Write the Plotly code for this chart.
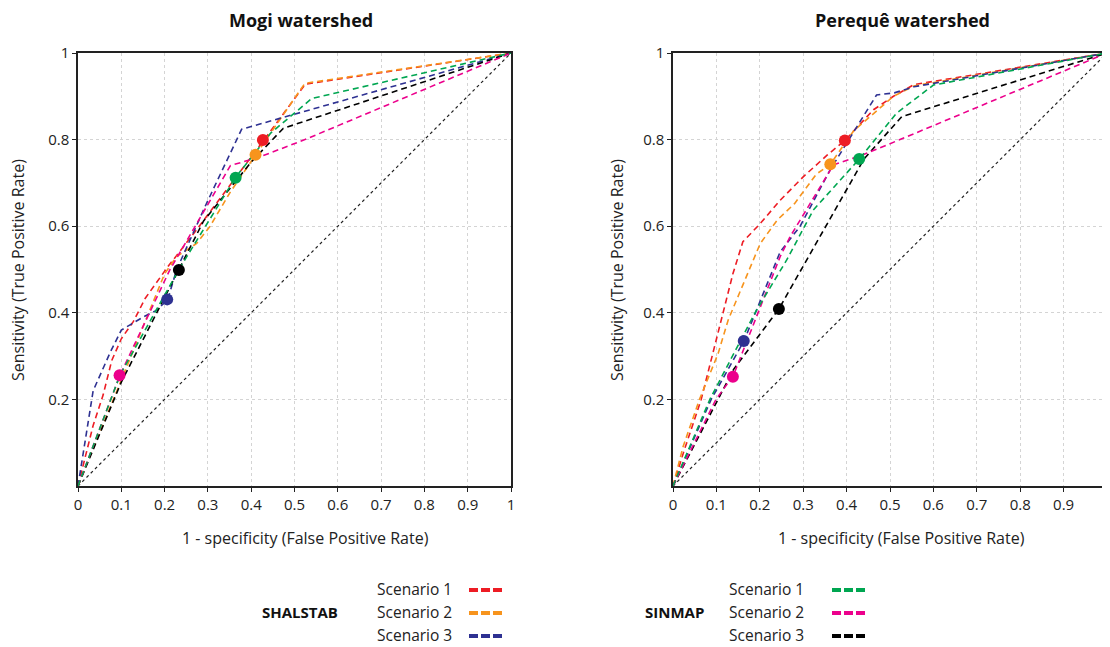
import plotly.graph_objects as go

W, H = 1110, 647
OFF = 8  # page body margin offset compensation

# ---------------- data ----------------
# Mogi watershed
mogi_shal1_x = [0, 0.035, 0.058, 0.078, 0.1, 0.128, 0.155, 0.182, 0.21, 0.23, 0.28, 0.43, 0.525, 1]
mogi_shal1_y = [0, 0.14, 0.21, 0.29, 0.34, 0.38, 0.433, 0.472, 0.51, 0.535, 0.60, 0.80, 0.928, 1]
mogi_shal2_x = [0, 0.02, 0.09, 0.2, 0.228, 0.274, 0.305, 0.35, 0.411, 0.524, 1]
mogi_shal2_y = [0, 0.05, 0.22, 0.49, 0.53, 0.56, 0.60, 0.676, 0.766, 0.93, 1]
mogi_shal3_x = [0, 0.035, 0.075, 0.1, 0.15, 0.18, 0.207, 0.228, 0.297, 0.37, 0.378, 0.466, 1]
mogi_shal3_y = [0, 0.22, 0.31, 0.36, 0.39, 0.405, 0.43, 0.50, 0.653, 0.807, 0.824, 0.849, 1]
mogi_sin1_x = [0, 0.097, 0.233, 0.364, 0.445, 0.54, 1]
mogi_sin1_y = [0, 0.256, 0.50, 0.713, 0.815, 0.895, 1]
mogi_sin2_x = [0, 0.097, 0.212, 0.30, 0.352, 0.42, 0.524, 1]
mogi_sin2_y = [0, 0.256, 0.499, 0.65, 0.74, 0.76, 0.80, 1]
mogi_sin3_x = [0, 0.1, 0.233, 0.29, 0.40, 0.474, 1]
mogi_sin3_y = [0, 0.24, 0.50, 0.612, 0.748, 0.826, 1]
# selected points (shal1, shal2, shal3, sin1, sin2, sin3)
mogi_pt_x = [0.427, 0.41, 0.206, 0.364, 0.096, 0.233]
mogi_pt_y = [0.799, 0.765, 0.431, 0.712, 0.256, 0.499]

# Perequê watershed
pereque_shal1_x = [0, 0.025, 0.065, 0.11, 0.138, 0.161, 0.2, 0.247, 0.30, 0.355, 0.396, 0.462, 0.508, 0.555, 1]
pereque_shal1_y = [0, 0.08, 0.20, 0.38, 0.49, 0.564, 0.605, 0.66, 0.714, 0.764, 0.798, 0.869, 0.90, 0.927, 1]
pereque_shal2_x = [0, 0.023, 0.061, 0.104, 0.127, 0.165, 0.201, 0.24, 0.28, 0.33, 0.3625, 0.416, 0.508, 0.555, 1]
pereque_shal2_y = [0, 0.09, 0.20, 0.306, 0.383, 0.476, 0.56, 0.614, 0.652, 0.72, 0.743, 0.82, 0.90, 0.924, 1]
pereque_shal3_x = [0, 0.088, 0.164, 0.247, 0.293, 0.362, 0.469, 0.51, 0.555, 1]
pereque_shal3_y = [0, 0.20, 0.336, 0.541, 0.60, 0.73, 0.903, 0.908, 0.922, 1]
pereque_sin1_x = [0, 0.085, 0.189, 0.262, 0.323, 0.429, 0.515, 0.60, 1]
pereque_sin1_y = [0, 0.20, 0.40, 0.522, 0.637, 0.755, 0.861, 0.926, 1]
pereque_sin2_x = [0, 0.099, 0.139, 0.196, 0.247, 0.27, 0.37, 0.43, 0.523, 1]
pereque_sin2_y = [0, 0.20, 0.255, 0.40, 0.53, 0.576, 0.742, 0.762, 0.80, 1]
pereque_sin3_x = [0, 0.14, 0.244, 0.339, 0.44, 0.527, 1]
pereque_sin3_y = [0, 0.27, 0.409, 0.576, 0.755, 0.853, 1]
pereque_pt_x = [0.396, 0.3625, 0.163, 0.429, 0.138, 0.244]
pereque_pt_y = [0.798, 0.743, 0.335, 0.755, 0.2525, 0.409]

diag_x = [0, 1]
diag_y = [0, 1]

x_ticks = [0, 0.1, 0.2, 0.3, 0.4, 0.5, 0.6, 0.7, 0.8, 0.9, 1]
x_ticktext = ["0", "0.1", "0.2", "0.3", "0.4", "0.5", "0.6", "0.7", "0.8", "0.9", "1"]
y_ticks = [0.2, 0.4, 0.6, 0.8, 1]
y_ticktext = ["0.2", "0.4", "0.6", "0.8", "1"]

series_names = ["SHALSTAB Scenario 1", "SHALSTAB Scenario 2", "SHALSTAB Scenario 3",
                "SINMAP Scenario 1", "SINMAP Scenario 2", "SINMAP Scenario 3"]
colors = ["#ED1C24", "#F7941D", "#2E3192", "#00A651", "#EC008C", "#000000"]

panel_titles = ["Mogi watershed", "Perequê watershed"]
x_title = "1 - specificity (False Positive Rate)"
y_title = "Sensitivity (True Positive Rate)"
legend_groups = ["SHALSTAB", "SINMAP"]
legend_labels = ["Scenario 1", "Scenario 2", "Scenario 3"]

FONT = "Open Sans"

def px(x):
    return (x - OFF) / W

def py(y):
    return 1 - (y - OFF) / H

fig = go.Figure()

panels = [
    ("x", "y", [mogi_shal1_x, mogi_shal2_x, mogi_shal3_x, mogi_sin1_x, mogi_sin2_x, mogi_sin3_x],
     [mogi_shal1_y, mogi_shal2_y, mogi_shal3_y, mogi_sin1_y, mogi_sin2_y, mogi_sin3_y], mogi_pt_x, mogi_pt_y),
    ("x2", "y2", [pereque_shal1_x, pereque_shal2_x, pereque_shal3_x, pereque_sin1_x, pereque_sin2_x, pereque_sin3_x],
     [pereque_shal1_y, pereque_shal2_y, pereque_shal3_y, pereque_sin1_y, pereque_sin2_y, pereque_sin3_y],
     pereque_pt_x, pereque_pt_y),
]

draw_order = [0, 1, 2, 5, 4, 3]
for xa, ya, xs, ys, ptx, pty in panels:
    fig.add_trace(go.Scatter(x=diag_x, y=diag_y, mode="lines", xaxis=xa, yaxis=ya,
                             line=dict(color="#222222", width=1.2, dash="dot"),
                             showlegend=False, hoverinfo="skip"))
    for i in draw_order:
        fig.add_trace(go.Scatter(x=xs[i], y=ys[i], mode="lines", xaxis=xa, yaxis=ya,
                                 name=series_names[i],
                                 line=dict(color=colors[i], width=1.6, dash="6px,4px"),
                                 showlegend=False))
    for i in draw_order:
        fig.add_trace(go.Scatter(x=[ptx[i]], y=[pty[i]], mode="markers", xaxis=xa, yaxis=ya,
                                 marker=dict(color=colors[i], size=12),
                                 showlegend=False, name=series_names[i], cliponaxis=False))

# plot area pixel bounds
left_dom = [px(78), px(511)]
right_dom = [px(673), px(1107)]
y_dom = [py(486), py(53)]

axis_common = dict(range=[0, 1], showline=True, linecolor="#222222", linewidth=1.5, mirror=True,
                   ticks="outside", ticklen=4, tickcolor="#222222", tickwidth=1,
                   showgrid=True, gridcolor="#d4d4d4", griddash="dot", gridwidth=1,
                   zeroline=False, tickfont=dict(family=FONT, size=15, color="#222222"),
                   fixedrange=True, automargin=False)

fig.update_layout(
    width=W, height=H, autosize=False,
    margin=dict(l=0, r=0, t=0, b=0, pad=0, autoexpand=False),
    paper_bgcolor="white", plot_bgcolor="white",
    showlegend=False,
    xaxis=dict(domain=left_dom, anchor="y", tickvals=x_ticks, ticktext=x_ticktext, **axis_common),
    yaxis=dict(domain=y_dom, anchor="x", tickvals=y_ticks, ticktext=y_ticktext, **axis_common),
    xaxis2=dict(domain=right_dom, anchor="y2", tickvals=x_ticks, ticktext=x_ticktext, **axis_common),
    yaxis2=dict(domain=y_dom, anchor="x2", tickvals=y_ticks, ticktext=y_ticktext, **axis_common),
)

annotations = []
# panel titles
for t, cx in zip(panel_titles, [301, 902]):
    annotations.append(dict(text="<b>%s</b>" % t, x=px(cx), y=py(20), xref="paper", yref="paper",
                            showarrow=False, xanchor="center", yanchor="middle",
                            font=dict(family=FONT, size=18, color="#111111")))
# x titles
for cx in [305, 901]:
    annotations.append(dict(text=x_title, x=px(cx), y=py(538), xref="paper", yref="paper",
                            showarrow=False, xanchor="center", yanchor="middle",
                            font=dict(family=FONT, size=16, color="#222222")))
# y titles
for cx in [18, 617]:
    annotations.append(dict(text=y_title, x=px(cx), y=py(270), xref="paper", yref="paper",
                            showarrow=False, xanchor="center", yanchor="middle", textangle=-90,
                            font=dict(family=FONT, size=16, color="#222222")))

# custom legend
legend_cfg = [
    (legend_groups[0], 300, 375, 469, [0, 1, 2]),
    (legend_groups[1], 674, 727, 832, [3, 4, 5]),
]
row_y = [589, 612, 635]
shapes = []
for grp, gx, tx, lx, idxs in legend_cfg:
    annotations.append(dict(text="<b>%s</b>" % grp, x=px(gx), y=py(612), xref="paper", yref="paper",
                            showarrow=False, xanchor="center", yanchor="middle",
                            font=dict(family=FONT, size=15, color="#111111")))
    for k, i in enumerate(idxs):
        annotations.append(dict(text=legend_labels[k], x=px(tx), y=py(row_y[k]), xref="paper", yref="paper",
                                showarrow=False, xanchor="left", yanchor="middle",
                                font=dict(family=FONT, size=15.5, color="#222222")))
        shapes.append(dict(type="line", xref="paper", yref="paper",
                           x0=px(lx), x1=px(lx + 34), y0=py(row_y[k] + 1), y1=py(row_y[k] + 1),
                           line=dict(color=colors[i], width=4, dash="9px,3px")))

fig.update_layout(annotations=annotations, shapes=shapes)

fig.write_html("out.html")
